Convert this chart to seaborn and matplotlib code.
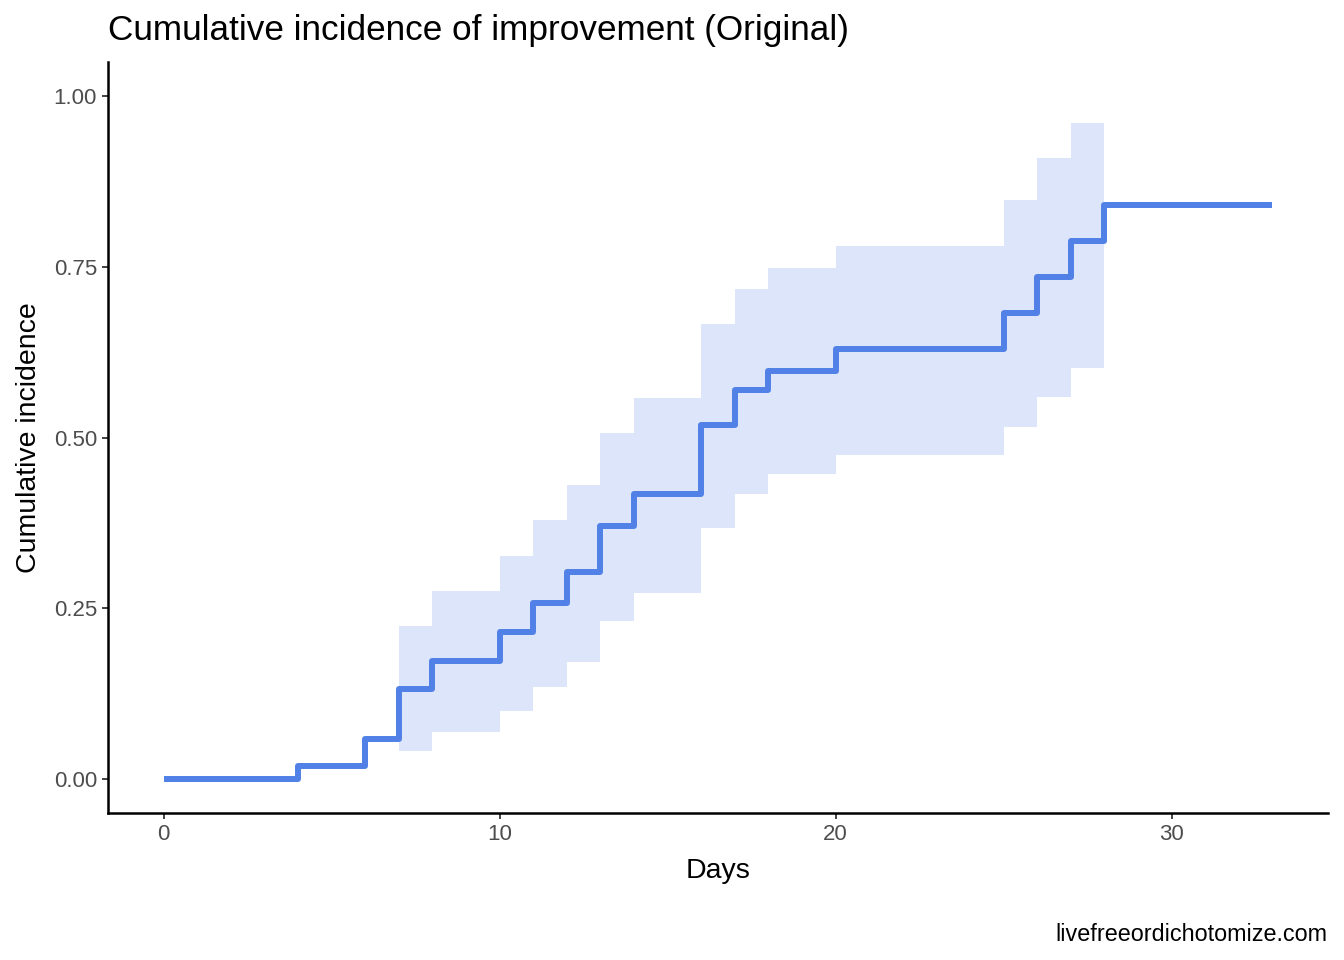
import matplotlib
import matplotlib.pyplot as plt
import numpy as np
import pandas as pd
import seaborn as sns

matplotlib.use("Agg")

# ── Data ──────────────────────────────────────────────────────────────────────

days = [0, 4, 6, 7, 8, 10, 11, 12, 13, 14, 16, 17, 18, 20, 25, 26, 27, 28, 33]
incidence = [0.000, 0.019, 0.058, 0.132, 0.173, 0.215, 0.257, 0.303, 0.370,
             0.417, 0.518, 0.569, 0.598, 0.629, 0.683, 0.735, 0.788, 0.841, 0.841]

ci_days = [7, 8, 10, 11, 12, 13, 14, 16, 17, 18, 20, 25, 26, 27, 28]
ci_lower = [0.041, 0.069, 0.099, 0.135, 0.171, 0.231, 0.272, 0.367, 0.418,
            0.446, 0.475, 0.515, 0.560, 0.602, 0.602]
ci_upper = [0.224, 0.275, 0.327, 0.379, 0.431, 0.507, 0.558, 0.667, 0.718,
            0.749, 0.781, 0.848, 0.909, 0.961, 0.961]

x_ticks = [0, 10, 20, 30]
y_ticks = [0.00, 0.25, 0.50, 0.75, 1.00]

LINE_COLOR = "#5181e7"

# ── Style ─────────────────────────────────────────────────────────────────────

sns.set_theme(style="ticks")
plt.rcParams["font.family"] = ["Liberation Sans", "DejaVu Sans"]

df = pd.DataFrame({"Days": days, "Cumulative incidence": incidence})

fig = plt.figure(figsize=(13.44, 9.6), dpi=100)
ax = fig.add_axes([0.0804, 0.153, 0.9076, 0.7824])

ax.fill_between(ci_days, ci_lower, ci_upper, step="post",
                color=LINE_COLOR, alpha=0.2, linewidth=0)
sns.lineplot(data=df, x="Days", y="Cumulative incidence", ax=ax,
             drawstyle="steps-post", color=LINE_COLOR, linewidth=4.3,
             solid_joinstyle="round", solid_capstyle="butt")

ax.set_xlim(-1.65, 34.65)
ax.set_ylim(-0.05, 1.05)
ax.set_xticks(x_ticks)
ax.set_yticks(y_ticks)
ax.set_yticklabels([f"{v:.2f}" for v in y_ticks])
ax.tick_params(axis="both", length=4, width=1.3, color="#333333",
               labelsize=16, labelcolor="#4d4d4d", pad=4)

for side in ["left", "bottom"]:
    ax.spines[side].set_linewidth(1.8)
    ax.spines[side].set_color("black")
sns.despine(ax=ax)

ax.set_xlabel("Days", fontsize=20.5, color="black", labelpad=9)
ax.set_ylabel("Cumulative incidence", fontsize=20.5, color="black", labelpad=8)
ax.set_title("Cumulative incidence of improvement (Original)", fontsize=25.3,
             loc="left", color="black", pad=16)

fig.text(0.988, 0.015, "livefreeordichotomize.com", ha="right", va="bottom",
         fontsize=16.8, color="black")

fig.savefig("out.png", dpi=100)
plt.close(fig)
